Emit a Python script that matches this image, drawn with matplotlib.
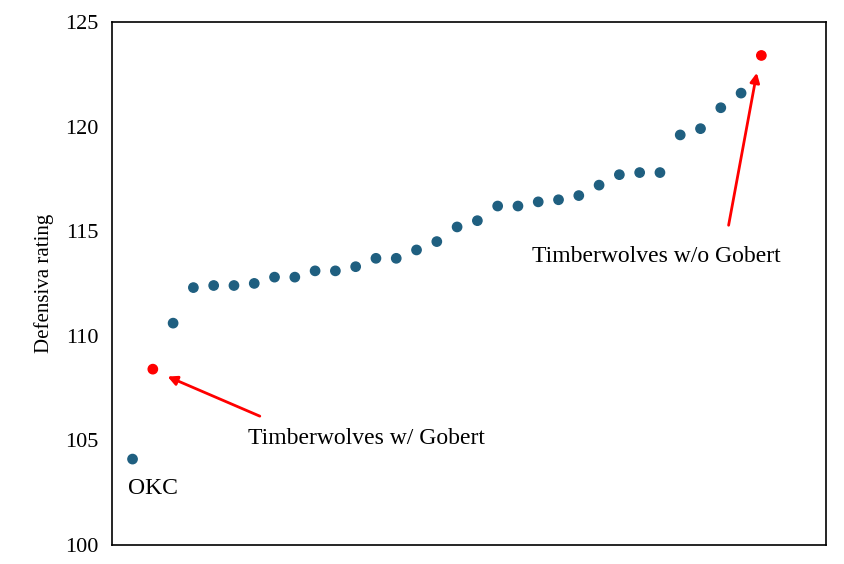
import matplotlib.pyplot as plt
import numpy as np

plt.rcParams['font.family'] = ['Liberation Serif', 'DejaVu Serif']

# defensive rating per team, sorted
ratings = [104.1, 108.4, 110.6, 112.3, 112.4, 112.4, 112.5, 112.8, 112.8, 113.1,
           113.1, 113.3, 113.7, 113.7, 114.1, 114.5, 115.2, 115.5, 116.2, 116.2,
           116.4, 116.5, 116.7, 117.2, 117.7, 117.8, 117.8, 119.6, 119.9, 120.9,
           121.6, 123.4]
highlight = [1, 31]  # Timberwolves w/ and w/o Gobert
yticks = [100, 105, 110, 115, 120, 125]

fig = plt.figure(figsize=(8.44, 5.64), dpi=100)
ax = fig.add_axes([0.133, 0.034, 0.846, 0.927])

x = np.arange(len(ratings))
y = np.array(ratings)
colors = ['red' if i in highlight else '#1f5f80' for i in x]
ax.scatter(x, y, s=45, c=colors, zorder=3)

ax.set_xlim(-1, 34.2)
ax.set_ylim(100, 125)
ax.set_xticks([])
ax.set_yticks(yticks)
ax.tick_params(axis='y', labelsize=16, length=0, pad=10)
ax.set_ylabel('Defensiva rating', fontsize=15, labelpad=8)
for s in ax.spines.values():
    s.set_linewidth(1.2)

arrow = dict(arrowstyle='-|>', color='red', lw=2, mutation_scale=14)
ax.annotate('', xy=(1.6, 108.1), xytext=(6.4, 106.1), arrowprops=arrow)
ax.annotate('', xy=(30.8, 122.7), xytext=(29.36, 115.15), arrowprops=arrow)
ax.text(5.67, 105.1, 'Timberwolves w/ Gobert', fontsize=17, va='center')
ax.text(19.7, 113.8, 'Timberwolves w/o Gobert', fontsize=17, va='center')
ax.text(-0.2, 102.7, 'OKC', fontsize=17, va='center')

fig.savefig('out.png', dpi=100)
